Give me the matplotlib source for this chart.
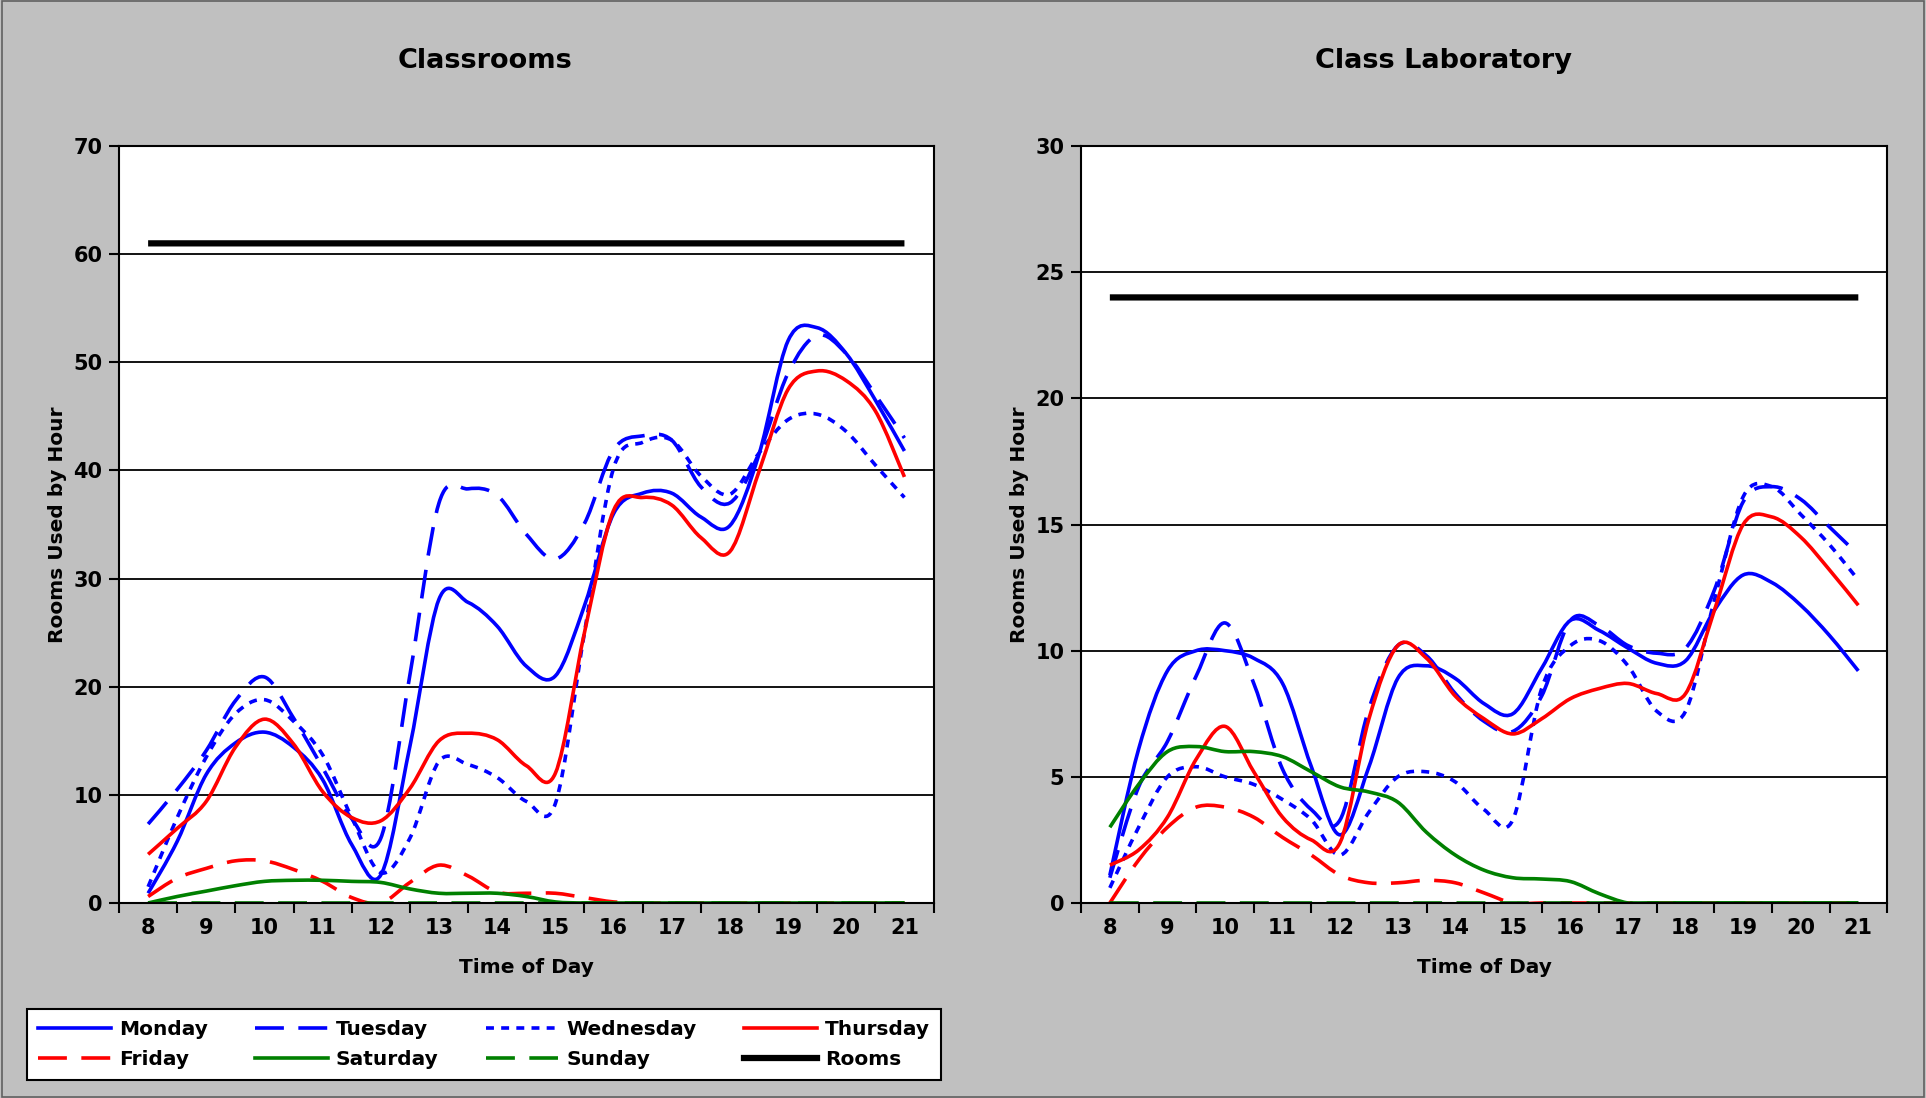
import numpy as np
import matplotlib
matplotlib.use('Agg')
import matplotlib.pyplot as plt
from matplotlib.path import Path
from matplotlib.patches import PathPatch, Rectangle
from matplotlib.lines import Line2D

plt.rcParams['font.family'] = ['DejaVu Sans']
plt.rcParams['font.weight'] = 'bold'

# half-hour points from 8:00 to 21:00
hours = np.arange(8, 21.5, 0.5)

# Classrooms
cls_mon = [0.9, 5.7, 11.9, 14.8, 15.8, 14.4, 11.4, 5.4, 2.6, 14.5, 28.1, 27.8, 25.6, 21.9,
           21.0, 27.5, 36.0, 37.9, 37.9, 35.7, 34.9, 41.5, 52.0, 53.2, 50.8, 46.5, 41.8]
cls_tue = [7.3, 10.5, 14.1, 18.7, 20.9, 17.1, 12.5, 7.8, 6.0, 21.1, 37.0, 38.3, 37.7, 34.1,
           31.8, 35.1, 41.9, 43.2, 42.8, 38.5, 37.0, 41.6, 49.0, 52.5, 50.8, 47.0, 43.0]
cls_wed = [1.5, 7.9, 13.5, 17.5, 18.8, 16.8, 13.7, 7.9, 2.8, 6.0, 13.1, 12.8, 11.6, 9.4,
           9.2, 25.0, 40.2, 42.6, 42.8, 39.5, 37.8, 41.6, 44.7, 45.2, 43.6, 40.5, 37.5]
cls_thu = [4.5, 6.9, 9.4, 14.4, 17.0, 14.7, 10.3, 7.9, 7.6, 10.6, 15.0, 15.7, 15.1, 12.7,
           12.0, 25.0, 36.3, 37.5, 36.8, 33.8, 32.5, 39.9, 47.5, 49.2, 48.3, 45.5, 39.4]
cls_fri = [0.6, 2.3, 3.2, 3.9, 3.9, 3.1, 2.0, 0.5, 0.0, 1.9, 3.5, 2.5, 1.0, 0.9,
           0.9, 0.5, 0.1, 0, 0, 0, 0, 0, 0, 0, 0, 0, 0]
cls_sat = [0, 0.6, 1.1, 1.6, 2.0, 2.1, 2.1, 2.0, 1.9, 1.3, 0.9, 0.9, 0.9, 0.6,
           0.1, 0, 0, 0, 0, 0, 0, 0, 0, 0, 0, 0, 0]
cls_sun = [0] * 27
cls_rooms = [61] * 27

# Class Laboratory
lab_mon = [1.1, 6.1, 9.2, 10.0, 10.0, 9.7, 8.7, 5.4, 2.7, 5.4, 8.9, 9.4, 8.9, 7.9,
           7.5, 9.3, 11.2, 10.8, 10.1, 9.5, 9.6, 11.6, 13.0, 12.7, 11.8, 10.6, 9.2]
lab_tue = [1.0, 4.6, 6.4, 9.0, 11.1, 8.7, 5.3, 3.7, 3.3, 7.7, 10.2, 9.8, 8.3, 7.2,
           6.8, 8.2, 11.2, 11.0, 10.2, 9.9, 10.1, 12.4, 15.9, 16.5, 16.0, 14.9, 13.8]
lab_wed = [0.6, 3.0, 5.0, 5.4, 5.0, 4.7, 4.1, 3.3, 1.9, 3.6, 5.0, 5.2, 4.8, 3.7,
           3.3, 8.5, 10.2, 10.4, 9.4, 7.6, 7.6, 12.0, 16.1, 16.5, 15.4, 14.2, 12.8]
lab_thu = [1.5, 2.1, 3.4, 5.7, 7.0, 5.2, 3.4, 2.5, 2.4, 7.3, 10.2, 9.7, 8.2, 7.3,
           6.7, 7.3, 8.1, 8.5, 8.7, 8.3, 8.3, 11.6, 15.0, 15.3, 14.5, 13.2, 11.8]
lab_fri = [0, 1.7, 3.0, 3.8, 3.8, 3.4, 2.6, 1.9, 1.1, 0.8, 0.8, 0.9, 0.8, 0.4,
           0, 0, 0, 0, 0, 0, 0, 0, 0, 0, 0, 0, 0]
lab_sat = [3.0, 4.7, 6.0, 6.2, 6.0, 6.0, 5.8, 5.2, 4.6, 4.4, 4.0, 2.8, 1.9, 1.3,
           1.0, 0.95, 0.85, 0.37, 0, 0, 0, 0, 0, 0, 0, 0, 0]
lab_sun = [0] * 27
lab_rooms = [24] * 27

days = ['Monday', 'Tuesday', 'Wednesday', 'Thursday', 'Friday', 'Saturday', 'Sunday', 'Rooms']
colors = ['#0000FF', '#0000FF', '#0000FF', '#FF0000', '#FF0000', '#008000', '#008000', 'black']
styles = ['-', (0, (8, 4)), (0, (2.2, 2.0)), '-', (0, (8, 4)), '-', (0, (8, 4)), '-']
widths = [2.6, 2.6, 2.6, 2.6, 2.6, 2.6, 2.6, 4.5]


def smooth_path(x, y):
    # Excel-style smoothed line as cubic bezier segments
    pts = np.column_stack([x, y]).astype(float)
    n = len(pts)
    verts = [pts[0]]
    codes = [Path.MOVETO]
    for i in range(n - 1):
        p0 = pts[max(i - 1, 0)]
        p1 = pts[i]
        p2 = pts[i + 1]
        p3 = pts[min(i + 2, n - 1)]
        verts += [p1 + (p2 - p0) / 6, p2 - (p3 - p1) / 6, p2]
        codes += [Path.CURVE4] * 3
    return Path(verts, codes)


fig = plt.figure(figsize=(19.26, 10.98), dpi=100, facecolor='#C0C0C0')
fig.add_artist(Rectangle((0.001, 0.001), 0.998, 0.998, transform=fig.transFigure,
                         fill=False, edgecolor='#606060', lw=1.2))

panels = [
    ([0.0618, 0.1776, 0.4229, 0.6894], 'Classrooms', 485,
     [cls_mon, cls_tue, cls_wed, cls_thu, cls_fri, cls_sat, cls_sun, cls_rooms], 70, 10),
    ([0.5613, 0.1776, 0.4185, 0.6894], 'Class Laboratory', 1443,
     [lab_mon, lab_tue, lab_wed, lab_thu, lab_fri, lab_sat, lab_sun, lab_rooms], 30, 5),
]

for rect, title, title_x, series, ymax, ystep in panels:
    ax = fig.add_axes(rect)
    ax.set_facecolor('white')
    for vals, col, ls, lw in zip(series, colors, styles, widths):
        patch = PathPatch(smooth_path(hours, vals), fill=False, edgecolor=col,
                          lw=lw, linestyle=ls, capstyle='butt', joinstyle='round')
        ax.add_patch(patch)
    ax.set_xlim(7.5, 21.5)
    ax.set_ylim(0, ymax)
    ax.set_yticks(np.arange(0, ymax + 1, ystep))
    ax.set_xticks(range(8, 22))
    ax.set_xticks(np.arange(7.5, 22, 1), minor=True)
    ax.tick_params(axis='x', which='major', length=0, pad=11, labelsize=15)
    ax.tick_params(axis='x', which='minor', length=7, width=1.5, direction='out')
    ax.tick_params(axis='y', length=7, width=1.5, direction='out', labelsize=15, pad=5)
    ax.grid(axis='y', color='black', lw=1.3)
    ax.set_axisbelow(True)
    for sp in ax.spines.values():
        sp.set_linewidth(1.5)
    ax.set_xlabel('Time of Day', fontsize=14.5, fontweight='bold')
    ax.xaxis.set_label_coords(0.5, -0.073)
    ax.set_ylabel('Rooms Used by Hour', fontsize=14.5, fontweight='bold')
    ax.yaxis.set_label_coords(-0.064, 0.5)
    fig.text(title_x / 1926, 1 - 61 / 1098, title, ha='center', va='center',
             fontsize=19.5, fontweight='bold')

# legend laid out row by row like the original
order = [0, 4, 1, 5, 2, 6, 3, 7]
handles = [Line2D([], [], color=colors[i], linestyle=styles[i], lw=widths[i]) for i in order]
labels = [days[i] for i in order]
leg = fig.legend(handles, labels, ncol=4, loc='lower left',
                 bbox_to_anchor=(27 / 1926, 1 - 1080 / 1098, 914 / 1926, 70 / 1098),
                 mode='expand', fontsize=14.5, frameon=True, fancybox=False,
                 facecolor='white', framealpha=1,
                 handlelength=3.6, handletextpad=0.4, borderaxespad=0, borderpad=0.55,
                 labelspacing=0.55)
leg.get_frame().set_edgecolor('black')
leg.get_frame().set_linewidth(1.5)
for t in leg.get_texts():
    t.set_fontweight('bold')

fig.savefig('out.png', dpi=100, facecolor=fig.get_facecolor())
